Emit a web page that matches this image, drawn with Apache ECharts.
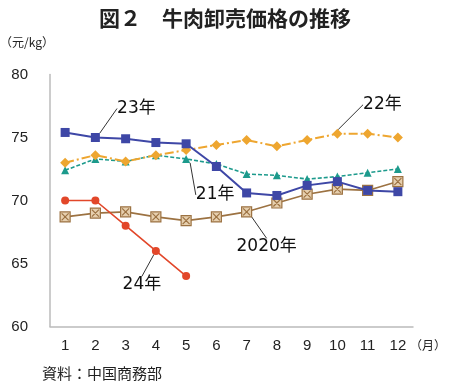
<!DOCTYPE html>
<html><head><meta charset="utf-8">
<script src="https://cdn.jsdelivr.net/npm/echarts@6/dist/echarts.min.js"></script>
<style>html,body{margin:0;padding:0;background:#fff}#c{width:450px;height:389px}</style>
</head><body><div id="c"></div>
<script>
const months = ['1','2','3','4','5','6','7','8','9','10','11','12'];
const yTicks = [60, 65, 70, 75, 80];
const y2020 = [68.7, 69.0, 69.1, 68.7, 68.4, 68.7, 69.1, 69.8, 70.5, 70.9, 70.8, 71.5];
const y2021 = [72.4, 73.3, 73.1, 73.6, 73.3, 72.9, 72.1, 72.0, 71.7, 71.9, 72.2, 72.5];
const y2022 = [73.0, 73.6, 73.1, 73.6, 74.0, 74.4, 74.8, 74.3, 74.8, 75.3, 75.3, 75.0];
const y2023 = [75.4, 75.0, 74.9, 74.6, 74.5, 72.7, 70.6, 70.4, 71.2, 71.5, 70.8, 70.7];
const y2024 = [70.0, 70.0, 68.0, 66.0, 64.0];
const seriesNames = ['2020年', '21年', '22年', '23年', '24年'];
const labelIndex = [6, 4, 9, 1, 3];

const labelOffsets = [[20, 35], [29, 36], [45, -29], [41, -29], [-14, 34]];
const styles = [
  {color:'#9C7242', fill:'#E6CFAE', symbol:'path://M0,0L10,0L10,10L0,10Z M1.5,1.5L8.5,8.5 M8.5,1.5L1.5,8.5', size:10, type:'solid', width:1.6},
  {color:'#1C9A8C', fill:'#1C9A8C', symbol:'triangle', size:8, type:[4,2], width:1.6},
  {color:'#EEA630', fill:'#EEA630', symbol:'diamond', size:10, type:[9,3,2,3], width:2},
  {color:'#3E47A6', fill:'#3E47A6', symbol:'rect', size:9, type:'solid', width:2},
  {color:'#E2472A', fill:'#E2472A', symbol:'circle', size:8, type:'solid', width:1.6}
];
const allData = [y2020, y2021, y2022, y2023, y2024];

const series = allData.map((arr, si) => {
  const st = styles[si];
  return {
    name: seriesNames[si],
    type: 'line',
    z: 2 + si,
    symbol: st.symbol,
    symbolSize: st.size,
    itemStyle: {color: st.fill, borderColor: st.color, borderWidth: si === 0 ? 1.2 : 0},
    lineStyle: {color: st.color, width: st.width, type: st.type},
    data: arr.map((v, i) => i === labelIndex[si] ? {
      value: v,
      label: {show: true, position: 'inside', formatter: seriesNames[si],
        fontSize: 17, color: '#111', fontFamily: "'DejaVu Sans','Noto Sans CJK JP',sans-serif"},
      labelLine: {show: true, lineStyle: {color: '#333', width: 1}}
    } : v),
    labelLayout: (p) => p.dataIndex === labelIndex[si] ? {dx: labelOffsets[si][0], dy: labelOffsets[si][1]} : {}
  };
});

const chart = echarts.init(document.getElementById('c'));
chart.setOption({
  animation: false,
  backgroundColor: '#fff',
  title: {text: '図２　牛肉卸売価格の推移', left: 'center', top: 3,
    textStyle: {fontSize: 21, fontWeight: 'bold', color: '#222', fontFamily: "'Noto Sans CJK JP',sans-serif"}},
  graphic: [
    {type: 'text', left: 0, top: 36, style: {text: '（元/kg）', fontSize: 12, fill: '#222', fontFamily: "'Noto Sans CJK JP',sans-serif"}},
    {type: 'text', left: 410, top: 339, style: {text: '（月）', fontSize: 12, fill: '#222', fontFamily: "'Noto Sans CJK JP',sans-serif"}},
    {type: 'text', left: 42, top: 366, style: {text: '資料：中国商務部', fontSize: 15, fill: '#222', fontFamily: "'Noto Sans CJK JP',sans-serif"}}
  ],
  grid: {left: 50, right: 37, top: 74.5, bottom: 62.5},
  xAxis: {type: 'category', data: months, boundaryGap: true,
    axisLine: {lineStyle: {color: '#bbb', width: 1.5}}, axisTick: {show: false},
    axisLabel: {fontSize: 15, color: '#222', margin: 12, fontFamily: "'Liberation Sans',Arial,sans-serif"}},
  yAxis: {type: 'value', min: yTicks[0], max: yTicks[yTicks.length - 1], interval: yTicks[1] - yTicks[0],
    axisLine: {show: true, lineStyle: {color: '#bbb', width: 1.5}}, axisTick: {show: false}, splitLine: {show: false},
    axisLabel: {fontSize: 15, color: '#222', margin: 22, fontFamily: "'Liberation Sans',Arial,sans-serif"}},
  series: series
});
</script></body></html>
